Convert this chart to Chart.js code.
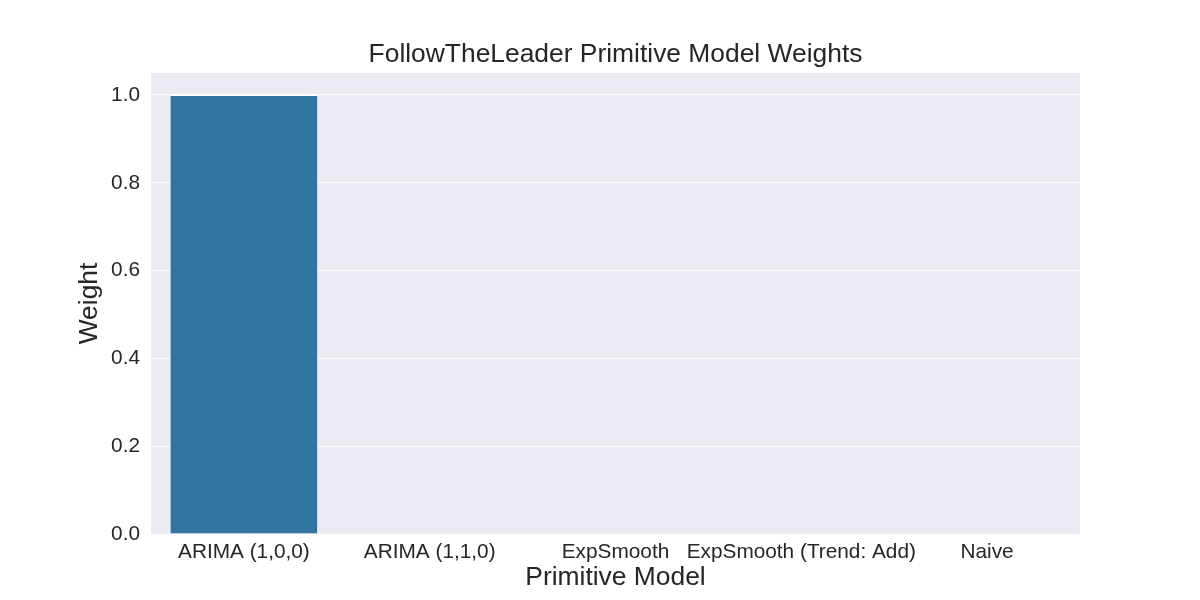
<!DOCTYPE html>
<html><head><meta charset="utf-8">
<script src="https://cdn.jsdelivr.net/npm/chart.js@4/dist/chart.umd.min.js"></script>
<style>html,body{margin:0;padding:0;background:#fff}canvas{display:block}</style>
</head><body>
<canvas id="c" width="1200" height="600"></canvas>
<script>
const categories = ["ARIMA (1,0,0)", "ARIMA (1,1,0)", "ExpSmooth", "ExpSmooth (Trend: Add)", "Naive"];
const weights = [1.0, 0, 0, 0, 0];
const yTicks = [0.0, 0.2, 0.4, 0.6, 0.8, 1.0];
const chartTitle = 'FollowTheLeader Primitive Model Weights';
const FONT = 'Liberation Sans, Arial, sans-serif';

const bgPlugin = {
  id: 'bg',
  beforeDraw(chart) {
    const {ctx, chartArea: a} = chart;
    ctx.save();
    ctx.fillStyle = '#EAEAF2';
    ctx.fillRect(a.left, a.top, a.right - a.left, a.bottom - a.top);
    ctx.restore();
  },
  afterDraw(chart) {
    const {ctx, chartArea: a} = chart;
    ctx.save();
    ctx.fillStyle = '#262626';
    ctx.font = '26.4px ' + FONT;
    ctx.textAlign = 'center';
    ctx.textBaseline = 'middle';
    ctx.fillText(chartTitle, (a.left + a.right) / 2, 55);
    ctx.restore();
  }
};

new Chart(document.getElementById('c'), {
  type: 'bar',
  data: {
    labels: categories,
    datasets: [{
      data: weights,
      backgroundColor: '#3274A1',
      borderColor: '#ffffff',
      borderWidth: 1,
      categoryPercentage: 0.8,
      barPercentage: 1.0
    }]
  },
  options: {
    responsive: false,
    animation: false,
    devicePixelRatio: 1,
    layout: {padding: {left: 0, right: 120, top: 73, bottom: 0}},
    plugins: {
      legend: {display: false},
      tooltip: {enabled: false},
      title: {display: false}
    },
    scales: {
      x: {
        grid: {display: false, drawTicks: false},
        border: {display: false},
        ticks: {color: '#262626', padding: 6, font: {family: FONT, size: 20.8}, maxRotation: 0, autoSkip: false},
        title: {display: true, text: 'Primitive Model', color: '#262626',
          font: {family: FONT, size: 26.4}, padding: {top: 0, bottom: 6}},
        afterFit(s) { s.height = 66; }
      },
      y: {
        min: 0, max: 1.05,
        afterBuildTicks(s) { s.ticks = yTicks.map(v => ({value: v})); },
        grid: {color: '#ffffff', lineWidth: 1, drawTicks: false},
        border: {display: false},
        ticks: {color: '#262626', padding: 11, font: {family: FONT, size: 20.8},
          callback: v => Number(v).toFixed(1)},
        title: {display: true, text: 'Weight', color: '#262626',
          font: {family: FONT, size: 26.4}, padding: {top: 74, bottom: 0}},
        afterFit(s) { s.width = 151; }
      }
    }
  },
  plugins: [bgPlugin]
});
</script>
</body></html>
